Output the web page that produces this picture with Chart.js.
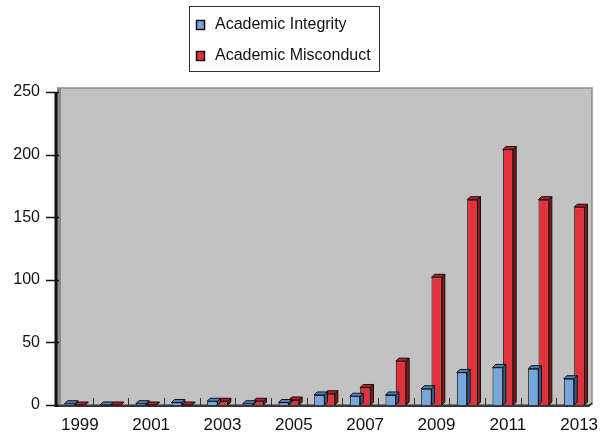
<!DOCTYPE html>
<html>
<head>
<meta charset="utf-8">
<script src="https://cdn.jsdelivr.net/npm/chart.js@4.4.1/dist/chart.umd.min.js"></script>
<style>
  html, body { margin: 0; padding: 0; background: #fff; }
  #wrap { width: 600px; height: 435px; }
</style>
</head>
<body>
<div id="wrap"><canvas id="myChart" width="600" height="435"></canvas></div>
<script>
// données
const years = ["1999", "2000", "2001", "2002", "2003", "2004", "2005", "2006", "2007", "2008", "2009", "2010", "2011", "2012", "2013"]
const integrity = [1, 0, 1, 2, 3, 1, 2, 8, 7, 8, 13, 26, 30, 29, 21]
const misconduct = [0, 0, 0, 0, 3, 3, 4, 9, 14, 35, 102, 164, 204, 164, 158]
const yTicks = [0, 50, 100, 150, 200, 250]

const DEPTH = 3

// mur gris + axes façon 3D
const wallPlugin = {
    id: "wall",
    beforeDatasetsDraw(chart) {
        const { ctx, chartArea: a } = chart
        ctx.save()
        ctx.fillStyle = "#c2c2c2"
        ctx.fillRect(a.left, a.top - 4, a.right - a.left, a.bottom - a.top + 4)
        ctx.strokeStyle = "#8c8c8c"
        ctx.lineWidth = 1.5
        ctx.beginPath()
        ctx.moveTo(a.left, a.top - 4)
        ctx.lineTo(a.right, a.top - 4)
        ctx.lineTo(a.right, a.bottom)
        ctx.stroke()
        // ombre mur gauche
        ctx.fillStyle = "#8a8a8a"
        ctx.fillRect(a.left, a.top - 4, 4, a.bottom - a.top + 4)
        // sol
        ctx.fillStyle = "#7a7a7a"
        ctx.beginPath()
        ctx.moveTo(a.left, a.bottom + 2)
        ctx.lineTo(a.right - 3, a.bottom + 2)
        ctx.lineTo(a.right, a.bottom - 2)
        ctx.lineTo(a.right, a.bottom - 1)
        ctx.lineTo(a.left, a.bottom - 1)
        ctx.fill()
        ctx.strokeStyle = "#222"
        ctx.lineWidth = 1.5
        ctx.beginPath()
        ctx.moveTo(a.left, a.bottom + 1)
        ctx.lineTo(a.right - 3, a.bottom + 1)
        ctx.lineTo(a.right, a.bottom - 2)
        ctx.stroke()
        // petites graduations x vers le haut
        const xs = chart.scales.x
        ctx.strokeStyle = "#333"
        ctx.lineWidth = 1
        for (let i = 1; i < years.length; i++) {
            const x = Math.round((xs.getPixelForTick(i - 1) + xs.getPixelForTick(i)) / 2) + 0.5
            ctx.beginPath()
            ctx.moveTo(x, a.bottom)
            ctx.lineTo(x, a.bottom - 7)
            ctx.stroke()
        }
        ctx.restore()
    },
    afterDatasetDraw(chart, args) {
        // faces du dessus et de côté des barres
        const { ctx } = chart
        const di = args.index
        const sides = ["#2f5d96", "#8e1217"]
        const tops = ["#4f7fbf", "#b81d24"]
        ctx.save()
        ctx.strokeStyle = "#111"
        ctx.lineWidth = 1
        args.meta.data.forEach(bar => {
            const l = bar.x - bar.width / 2
            const r = bar.x + bar.width / 2
            const t = bar.y
            const b = bar.base
            ctx.fillStyle = sides[di]
            ctx.beginPath()
            ctx.moveTo(r, b)
            ctx.lineTo(r, t)
            ctx.lineTo(r + DEPTH, t - DEPTH)
            ctx.lineTo(r + DEPTH, b - DEPTH)
            ctx.closePath()
            ctx.fill()
            ctx.stroke()
            ctx.fillStyle = tops[di]
            ctx.beginPath()
            ctx.moveTo(l, t)
            ctx.lineTo(l + DEPTH, t - DEPTH)
            ctx.lineTo(r + DEPTH, t - DEPTH)
            ctx.lineTo(r, t)
            ctx.closePath()
            ctx.fill()
            ctx.stroke()
        })
        ctx.restore()
    },
    afterDraw(chart) {
        const { ctx, chartArea: a } = chart
        ctx.save()
        // axe gauche
        ctx.strokeStyle = "#111"
        ctx.lineWidth = 3
        ctx.beginPath()
        ctx.moveTo(a.left - 1, a.top)
        ctx.lineTo(a.left - 1, a.bottom + 2)
        ctx.stroke()
        // graduations y
        const ys = chart.scales.y
        ctx.lineWidth = 1.5
        yTicks.forEach(v => {
            const y = Math.round(ys.getPixelForValue(v)) + 0.5
            ctx.beginPath()
            ctx.moveTo(a.left - 11, y)
            ctx.lineTo(a.left + 2, y)
            ctx.stroke()
        })
        // légende encadrée sur deux lignes
        ctx.strokeStyle = "#333"
        ctx.lineWidth = 1
        ctx.strokeRect(189.5, 6.5, 190, 65)
        ctx.font = "16px 'Liberation Sans', Arial, sans-serif"
        ctx.textBaseline = "middle"
        chart.data.datasets.forEach((ds, i) => {
            const y = 25 + i * 31
            ctx.fillStyle = ds.backgroundColor
            ctx.fillRect(196.5, y - 4.5, 8, 9)
            ctx.strokeStyle = "#111"
            ctx.lineWidth = 1.5
            ctx.strokeRect(196.5, y - 4.5, 8, 9)
            ctx.fillStyle = "#111"
            ctx.fillText(ds.label, 215, y)
        })
        ctx.restore()
    }
}

const barData = {
    labels: years,
    datasets: [
        {
            label: "Academic Integrity",
            backgroundColor: "#77a6dc",
            borderColor: "#111",
            borderWidth: 1,
            data: integrity,
        },
        {
            label: "Academic Misconduct",
            backgroundColor: "#e2313a",
            borderColor: "#111",
            borderWidth: 1,
            data: misconduct,
        },
    ],
}

const barConfig = {
    type: "bar",
    data: barData,
    options: {
        responsive: false,
        animation: false,
        layout: { padding: { top: 92, right: 8, left: 0, bottom: 0 } },
        plugins: {
            legend: { display: false },
            tooltip: { enabled: false },
        },
        datasets: {
            bar: { categoryPercentage: 0.58, barPercentage: 1 },
        },
        scales: {
            x: {
                grid: { display: false },
                border: { display: false },
                ticks: {
                    autoSkip: false,
                    maxRotation: 0,
                    labelOffset: 5,
                    padding: 2,
                    color: "#111",
                    font: { family: "'Liberation Sans', Arial, sans-serif", size: 17 },
                    callback: (v, i) => (i % 2 === 0 ? years[i] : ""),
                },
                afterFit: s => { s.height = 30 },
            },
            y: {
                min: 0,
                max: 250,
                grid: { display: false },
                border: { display: false },
                afterBuildTicks: s => { s.ticks = yTicks.map(v => ({ value: v })) },
                ticks: {
                    padding: 9,
                    color: "#111",
                    font: { family: "'Liberation Sans', Arial, sans-serif", size: 16 },
                },
                afterFit: s => { s.width = 57 },
            },
        },
    },
    plugins: [wallPlugin],
}

const monGraph = new Chart(document.getElementById("myChart"), barConfig)
</script>
</body>
</html>
